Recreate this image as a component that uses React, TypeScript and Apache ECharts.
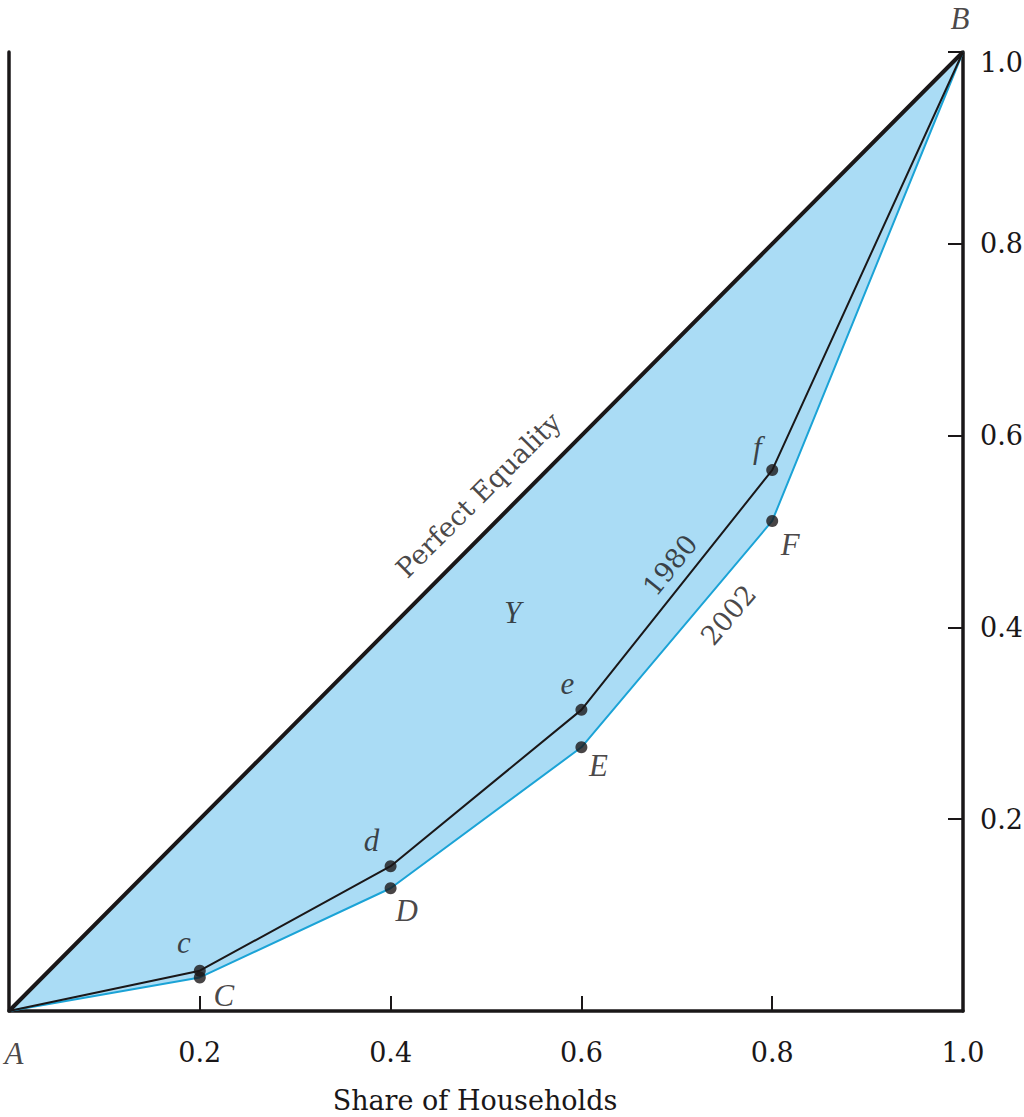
import React, { useEffect, useRef } from "react";
import * as echarts from "echarts";

// ---- data ----
const householdShare = [0, 0.2, 0.4, 0.6, 0.8, 1.0];
const equalityShare = [0, 0.2, 0.4, 0.6, 0.8, 1.0];
const incomeShare1980 = [0, 0.042, 0.151, 0.314, 0.564, 1.0];
const incomeShare2002 = [0, 0.035, 0.128, 0.275, 0.511, 1.0];
const pointNames1980 = ["", "c", "d", "e", "f", ""];
const pointNames2002 = ["", "C", "D", "E", "F", ""];
const xTickLabels = ["", "0.2", "0.4", "0.6", "0.8", "1.0"];
const yTickLabels = ["", "0.2", "0.4", "0.6", "0.8", "1.0"];
const xAxisTitle = "Share of Households";
const endpointNames = ["A", "B"];
const curveNames = ["Perfect Equality", "1980", "2002", "Y"];

// ---- styles / placement ----
const INK = "#1a1718";
const FILL = "#aadcf5";
const CYAN = "#1ba3d6";
const SERIF = "DejaVu Serif";
const ITALIC = "Liberation Serif";
const offsets1980 = [[0, 0], [-16, -28], [-19, -26], [-14, -26], [-15, -23], [0, 0]];
const offsets2002 = [[0, 0], [24, 18], [16, 22], [17, 18], [18, 24], [0, 0]];
const endpointOffsets = [[5, 42], [-3, -34]];
const curveNotePos = [[0.492, 0.538], [0.693, 0.465], [0.754, 0.413], [0.528, 0.416]];
const curveNoteRotate = [45, 51, 50, 0];

export default function App() {
  const ref = useRef<HTMLDivElement>(null);
  useEffect(() => {
    if (!ref.current) return;
    const chart = echarts.init(ref.current, undefined, { renderer: "svg" });
    const letterStyle = { fontFamily: ITALIC, fontStyle: "italic", fontSize: 31, color: INK };
    const idxOf = (v: number) => householdShare.findIndex((x) => Math.abs(x - v) < 1e-6);
    const dots = (ys: number[], names: string[], offs: number[][]) =>
      householdShare
        .map((x, i) => ({
          value: [x, ys[i]],
          name: names[i],
          label: { show: true, position: "inside", offset: offs[i], formatter: "{b}", ...letterStyle },
        }))
        .filter((_, i) => names[i] !== "");
    const option: any = {
      animation: false,
      grid: { left: 9, right: 61, top: 52, bottom: 106, outerBoundsMode: "none" },
      xAxis: {
        type: "value",
        min: 0,
        max: 1,
        interval: 0.2,
        position: "bottom",
        axisLine: { show: true, onZero: false, lineStyle: { color: INK, width: 3.5 } },
        axisTick: { show: true, inside: true, length: 15, lineStyle: { color: INK, width: 2 } },
        splitLine: { show: false },
        axisLabel: {
          margin: 28,
          fontFamily: SERIF,
          fontSize: 27,
          color: INK,
          formatter: (v: number) => xTickLabels[idxOf(v)] ?? "",
        },
        name: xAxisTitle,
        nameLocation: "middle",
        nameGap: 76,
        nameTextStyle: { fontFamily: SERIF, fontSize: 27, color: INK, padding: [0, 22, 0, 0] },
      },
      yAxis: [
        {
          type: "value",
          min: 0,
          max: 1,
          interval: 0.2,
          position: "left",
          axisLine: { show: true, onZero: false, lineStyle: { color: INK, width: 3.5 } },
          axisTick: { show: false },
          axisLabel: { show: false },
          splitLine: { show: false },
        },
        {
          type: "value",
          min: 0,
          max: 1,
          interval: 0.2,
          position: "right",
          axisLine: { show: true, onZero: false, lineStyle: { color: INK, width: 3.5 } },
          axisTick: { show: true, inside: true, length: 15, lineStyle: { color: INK, width: 2 } },
          splitLine: { show: false },
          axisLabel: {
            margin: 17,
            fontFamily: SERIF,
            fontSize: 27,
            color: INK,
            formatter: (v: number) => {
              const t = yTickLabels[idxOf(v)] ?? "";
              return v === 1 ? `{top|${t}}` : t;
            },
            rich: { top: { fontFamily: SERIF, fontSize: 27, color: INK, padding: [20, 0, 0, 0] } },
          },
        },
      ],
      series: [
        {
          type: "custom",
          silent: true,
          z: 1,
          clip: false,
          data: [[0, 0]],
          renderItem: (_params: any, api: any) => {
            const top = householdShare.map((x, i) => api.coord([x, equalityShare[i]]));
            const bottom = householdShare.map((x, i) => api.coord([x, incomeShare2002[i]])).reverse();
            return {
              type: "polygon",
              shape: { points: top.concat(bottom) },
              style: { fill: FILL, stroke: "none" },
            };
          },
        },
        {
          type: "line",
          data: householdShare.map((x, i) => [x, incomeShare2002[i]]),
          symbol: "none",
          lineStyle: { color: CYAN, width: 2 },
          z: 3,
        },
        {
          type: "line",
          data: householdShare.map((x, i) => [x, incomeShare1980[i]]),
          symbol: "none",
          lineStyle: { color: INK, width: 2 },
          z: 4,
        },
        {
          type: "line",
          data: householdShare.map((x, i) => [x, equalityShare[i]]),
          symbol: "none",
          lineStyle: { color: INK, width: 4 },
          z: 5,
        },
        {
          type: "scatter",
          data: dots(incomeShare2002, pointNames2002, offsets2002),
          symbol: "circle",
          symbolSize: 12,
          itemStyle: { color: INK },
          z: 6,
          clip: false,
        },
        {
          type: "scatter",
          data: dots(incomeShare1980, pointNames1980, offsets1980),
          symbol: "circle",
          symbolSize: 12,
          itemStyle: { color: INK },
          z: 6,
          clip: false,
        },
        {
          type: "scatter",
          clip: false,
          symbolSize: 0,
          z: 7,
          data: endpointNames.map((n, i) => ({
            value: [householdShare[i === 0 ? 0 : householdShare.length - 1], equalityShare[i === 0 ? 0 : equalityShare.length - 1]],
            name: n,
            label: { show: true, position: "inside", offset: endpointOffsets[i], formatter: "{b}", ...letterStyle },
          })),
        },
        {
          type: "scatter",
          clip: false,
          symbolSize: 0,
          z: 7,
          data: curveNames.map((n, i) => ({
            value: curveNotePos[i],
            name: n,
            label: {
              show: true,
              position: "inside",
              rotate: curveNoteRotate[i],
              formatter: "{b}",
              ...(n === "Y"
                ? letterStyle
                : { fontFamily: SERIF, fontSize: 27, color: INK }),
            },
          })),
        },
      ],
    };
    chart.setOption(option);
    return () => chart.dispose();
  }, []);
  return (
    <div
      ref={ref}
      style={{ position: "absolute", left: 0, top: 0, width: 1024, height: 1117, background: "#fff" }}
    />
  );
}
